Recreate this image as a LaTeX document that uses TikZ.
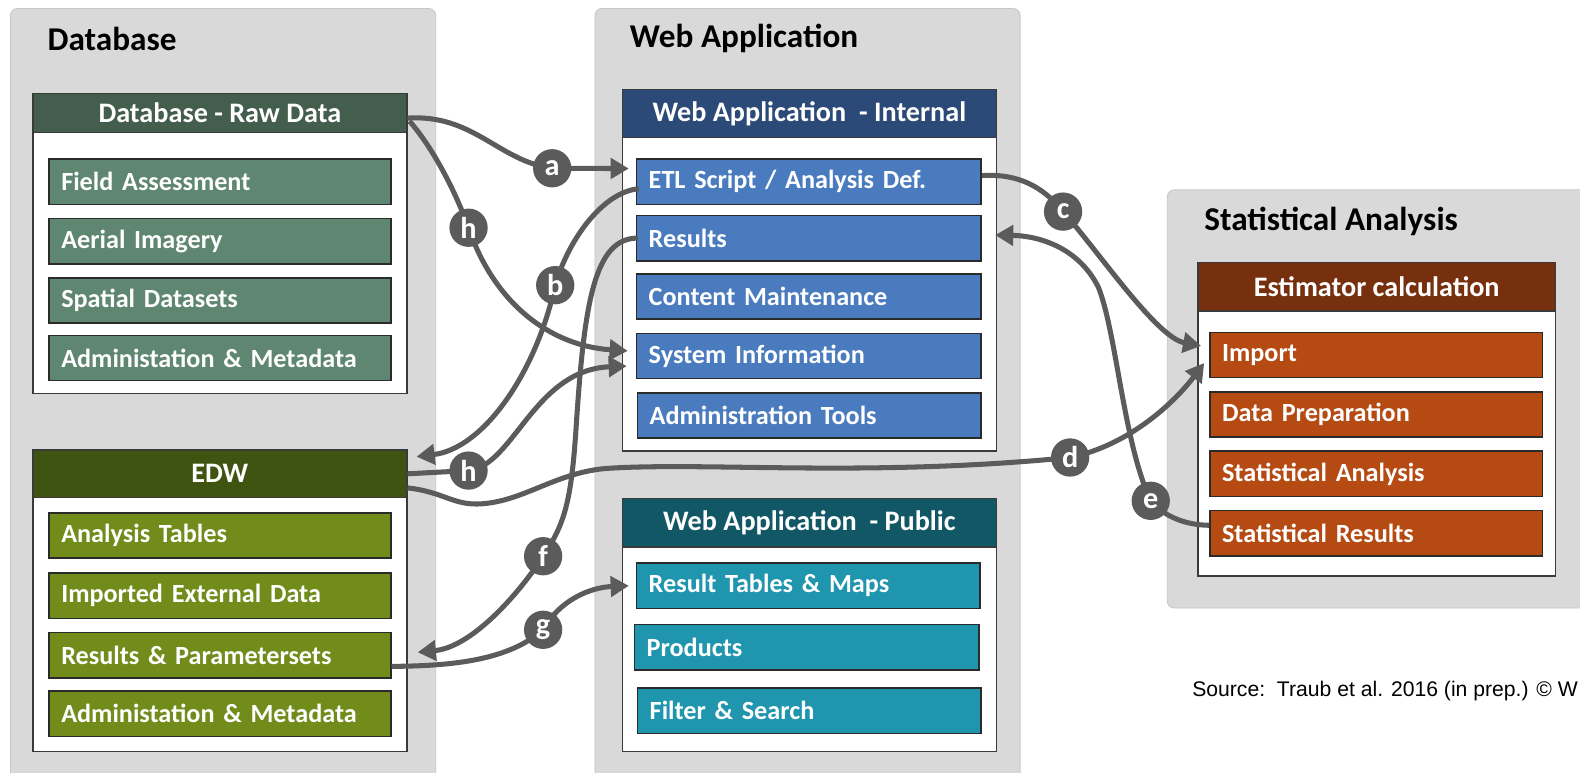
\documentclass[tikz,border=0pt]{standalone}
\usepackage{fontspec}
\setmainfont{Carlito}
\newfontfamily\srcfont{Liberation Sans}
\usetikzlibrary{arrows.meta}

\definecolor{panelgray}{HTML}{D9D9D9}
\definecolor{panelline}{HTML}{C6C6C6}
\definecolor{boxline}{HTML}{3A3A3A}
\definecolor{itemline}{HTML}{2A2A2A}
\definecolor{flowgray}{HTML}{5B5B5B}
\definecolor{rawhead}{HTML}{445E4E}
\definecolor{rawitem}{HTML}{5E8670}
\definecolor{edwhead}{HTML}{405412}
\definecolor{edwitem}{HTML}{718C1A}
\definecolor{inthead}{HTML}{2C4A77}
\definecolor{intitem}{HTML}{4A7BBF}
\definecolor{pubhead}{HTML}{125766}
\definecolor{pubitem}{HTML}{1F95AE}
\definecolor{esthead}{HTML}{77300D}
\definecolor{estitem}{HTML}{B54B13}

\tikzset{
  panel/.style={fill=panelgray, draw=panelline, line width=0.8pt, rounded corners=7pt,
    anchor=north west, inner sep=0pt},
  paneltitle/.style={anchor=west, inner sep=0pt, text=black,
    font=\bfseries\fontsize{33}{38}\selectfont},
  groupbox/.style={draw=boxline, fill=white, line width=1.4pt, anchor=north west,
    inner sep=0pt, minimum width=371pt},
  grouphead/.style={draw=boxline, line width=1.4pt, anchor=north west, inner sep=0pt,
    minimum width=371pt, text=white, font=\bfseries\fontsize{28}{32}\selectfont},
  item/.style={draw=itemline, line width=1.6pt, anchor=north west, text=white,
    font=\bfseries\fontsize{26}{30}\selectfont, minimum height=45pt,
    inner xsep=12pt, inner ysep=0pt, align=left, text width=#1},
  flow/.style={draw=flowgray, line width=5pt, -{Triangle[length=18pt,width=20pt]}},
  flowplain/.style={draw=flowgray, line width=5pt},
  tag/.style={circle, fill=flowgray, text=white, minimum size=38pt, inner sep=0pt,
    font=\bfseries\fontsize{30}{30}\selectfont},
}

\begin{document}
\begin{tikzpicture}[x=1pt,y=-1pt]
\useasboundingbox (0,0) rectangle (1568,767);

% ---------- background panels ----------
\node[panel, minimum width=422pt, minimum height=775pt] (pdb)  at (10,8)   {};
\node[panel, minimum width=422pt, minimum height=775pt] (pweb) at (590,8)  {};
\node[panel, minimum width=440pt, minimum height=415pt] (pst)  at (1158,188) {};

\node[paneltitle] (tdb)  at (47,39)   {Database};
\node[paneltitle] (tweb) at (625,38)  {Web Application};
\node[paneltitle] (tst)  at (1195,220) {Statistical Analysis};

% ---------- Database - Raw Data ----------
\node[groupbox, minimum height=298pt] (rawbox) at (32,92) {};
\node[grouphead, fill=rawhead, minimum height=39pt] (rawh) at (32,92) {Database - Raw Data};
\node[item=315pt, fill=rawitem] (rfa) at (48,157) {Field Assessment};
\node[item=315pt, fill=rawitem] (rai) at (48,216) {Aerial Imagery};
\node[item=315pt, fill=rawitem] (rsd) at (48,275) {Spatial Datasets};
\node[item=315pt, fill=rawitem] (ram) at (48,332) {Administation \& Metadata};

% ---------- EDW ----------
\node[groupbox, minimum height=299pt] (edwbox) at (32,446) {};
\node[grouphead, fill=edwhead, minimum height=47pt] (edwh) at (32,446) {EDW};
\node[item=315pt, fill=edwitem] (eat)  at (48,508) {Analysis Tables};
\node[item=315pt, fill=edwitem] (eied) at (48,568) {Imported External Data};
\node[item=315pt, fill=edwitem] (rps)  at (48,627) {Results \& Parametersets};
\node[item=315pt, fill=edwitem] (eam)  at (48,685) {Administation \& Metadata};

% ---------- Web Application - Internal ----------
\node[groupbox, minimum height=359pt] (intbox) at (617,88) {};
\node[grouphead, fill=inthead, minimum height=48pt] (inth) at (617,88) {Web Application\ \ - Internal};
\node[item=318pt, fill=intitem] (etl)  at (631,157) {ETL Script / Analysis Def.};
\node[item=318pt, fill=intitem] (res)  at (631,213) {Results};
\node[item=318pt, fill=intitem] (cm)   at (631,271) {Content Maintenance};
\node[item=318pt, fill=intitem] (sysi) at (631,330) {System Information};
\node[item=317pt, fill=intitem] (admt) at (632,389) {Administration Tools};

% ---------- Web Application - Public ----------
\node[groupbox, minimum height=251pt] (pubbox) at (617,494) {};
\node[grouphead, fill=pubhead, minimum height=48pt] (pubh) at (617,494) {Web Application\ \ - Public};
\node[item=317pt, fill=pubitem] (rtm)  at (631,558) {Result Tables \& Maps};
\node[item=318pt, fill=pubitem] (prod) at (629,619) {Products};
\node[item=317pt, fill=pubitem] (fsr)  at (632,682) {Filter \& Search};

% ---------- Estimator calculation ----------
\node[groupbox, minimum width=355pt, minimum height=311pt] (estbox) at (1188,260) {};
\node[grouphead, fill=esthead, minimum width=355pt, minimum height=48pt] (esth) at (1188,260) {Estimator calculation};
\node[item=306pt, fill=estitem] (imp)   at (1200,329) {Import};
\node[item=306pt, fill=estitem] (dprep) at (1200,388) {Data Preparation};
\node[item=306pt, fill=estitem] (sana)  at (1200,447) {Statistical Analysis};
\node[item=306pt, fill=estitem] (sres)  at (1200,506) {Statistical Results};

% ---------- connector label positions ----------
\coordinate (ta)  at (548,167);
\coordinate (th1) at (465,226);
\coordinate (tb)  at (551,283);
\coordinate (th2) at (465,467);
\coordinate (td)  at (1062,454);
\coordinate (tf)  at (539,552);
\coordinate (tg)  at (539,625);
\coordinate (tc)  at (1055,210);
\coordinate (te)  at (1142,497);

% ---------- connectors ----------
% a: raw data -> ETL script
\draw[flow] ([yshift=-5pt]rawh.east) .. controls (470,113) and (495,160) .. (ta)
  -- ([xshift=-7pt,yshift=13pt]etl.west);
% h: raw data -> system information
\draw[flow] ([xshift=2pt,yshift=-8pt]rawh.east) .. controls (428,145) and (450,185) .. (th1)
  .. controls (490,300) and (545,343) .. ([xshift=-8pt,yshift=5pt]sysi.west);
% b: ETL script -> EDW
\draw[flow] ([xshift=3pt,yshift=-7pt]etl.west) .. controls (600,190) and (565,235) .. (tb)
  .. controls (532,370) and (480,445) .. ([xshift=9pt,yshift=17pt]edwh.east);
% h: EDW -> system information
\draw[flow] (edwh.east) -- (th2) .. controls (510,462) and (530,367) .. ([xshift=-9pt,yshift=-10pt]sysi.west);
% d: EDW -> import
\draw[flow] ([yshift=-14pt]edwh.east) .. controls (440,488) and (450,502) .. (478,500)
  .. controls (520,497) and (550,470) .. (600,465)
  .. controls (700,458) and (860,474) .. (td)
  .. controls (1120,442) and (1165,400) .. ([xshift=-5pt,yshift=-8pt]imp.west);
% f: results -> results & parametersets
\draw[flow] ([xshift=2pt]res.west) .. controls (590,236) and (580,300) .. (572,420)
  .. controls (567,500) and (560,520) .. (tf)
  .. controls (518,585) and (470,642) .. ([xshift=26pt,yshift=3pt]rps.east);
% g: results & parametersets -> result tables & maps
\draw[flow] ([yshift=-11pt]rps.east) .. controls (450,661) and (505,655) .. (tg)
  .. controls (555,596) and (585,583) .. ([xshift=-7pt]rtm.west);
% c: ETL script -> import
\draw[flow] ([yshift=6pt]etl.east) .. controls (1010,172) and (1035,185) .. (tc)
  .. controls (1092,252) and (1148,335) .. ([xshift=-8pt,yshift=9pt]imp.west);
% e: statistical results -> results
\draw[flow] ([yshift=8pt]sres.west) .. controls (1175,521) and (1155,512) .. (te)
  .. controls (1115,440) and (1108,330) .. (1090,285)
  .. controls (1070,245) and (1030,234) .. ([xshift=13pt,yshift=3pt]res.east);

% ---------- connector labels ----------
\node[tag] (la)  at (ta)  {a};
\node[tag] (lh1) at (th1) {h};
\node[tag] (lb)  at (tb)  {b};
\node[tag] (lh2) at (th2) {h};
\node[tag] (ld)  at (td)  {d};
\node[tag] (lf)  at (tf)  {f};
\node[tag] (lg)  at (tg)  {g};
\node[tag] (lc)  at (tc)  {c};
\node[tag] (le)  at (te)  {e};

% ---------- source note ----------
\node[anchor=west, inner sep=0pt, font=\srcfont\fontsize{21}{24}\selectfont] (src)
  at (1183,686) {Source:\ \ Traub et al. 2016 (in prep.) \textcopyright\ W};
\end{tikzpicture}
\end{document}
